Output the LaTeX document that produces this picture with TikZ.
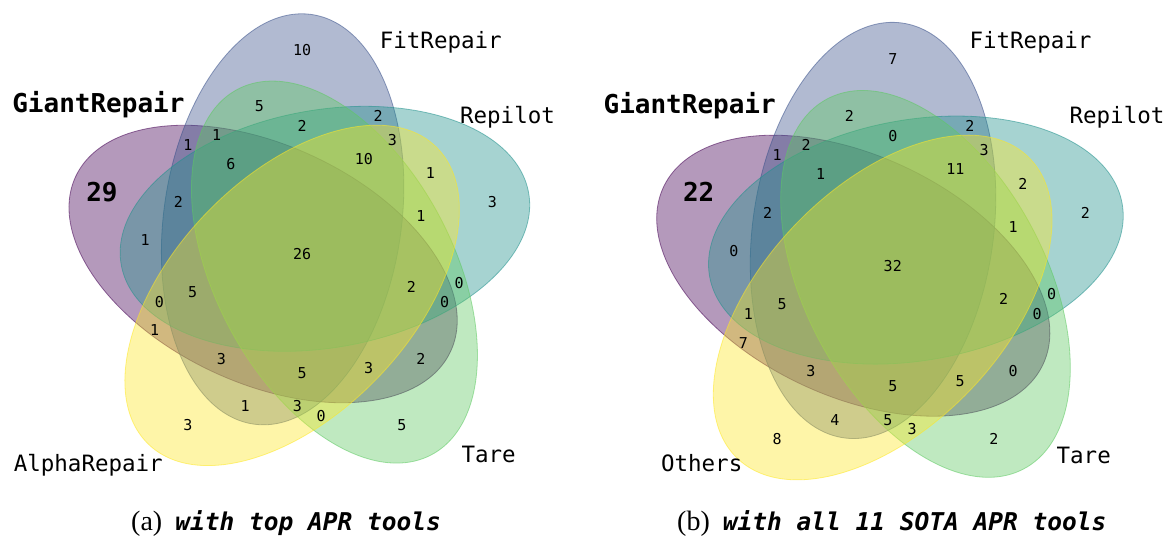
\documentclass[tikz,border=0pt]{standalone}
\usepackage{fontspec}
\newfontfamily\monofam{DejaVu Sans Mono}
\newfontfamily\capserif{Liberation Serif}
\definecolor{vpurple}{RGB}{68,1,84}
\definecolor{vblue}{RGB}{59,82,139}
\definecolor{vteal}{RGB}{33,145,140}
\definecolor{vgreen}{RGB}{94,201,98}
\definecolor{vyellow}{RGB}{253,231,37}
\begin{document}
\begin{tikzpicture}[x=1pt,y=1pt,
  setshape/.style={fill=#1, draw=#1, fill opacity=0.4, draw opacity=0.55, line width=0.8pt},
  setname/.style={font=\monofam\fontsize{22.5}{27}\selectfont, anchor=base, inner sep=0pt},
  bigname/.style={font=\monofam\bfseries\fontsize{26}{31}\selectfont, anchor=base, inner sep=0pt},
  cnt/.style={font=\monofam\fontsize{15}{18}\selectfont, inner sep=0pt},
  bigcnt/.style={font=\monofam\bfseries\fontsize{26}{31}\selectfont, inner sep=0pt},
  capt/.style={anchor=base west, inner sep=0pt, font=\capserif\fontsize{28}{32}\selectfont}]
\useasboundingbox (0,0) rectangle (1173,558);

% ---------------- left diagram ----------------
\begin{scope}[shift={(59.6,80.5)}, x=475.5pt, y=475.5pt]
  \foreach \cx/\cy/\ang/\col in {0.428/0.449/155/vpurple, 0.469/0.543/82/vblue, 0.558/0.523/10/vteal, 0.578/0.432/118/vgreen, 0.489/0.383/46/vyellow}
    \draw[setshape=\col, rotate around={\ang:(\cx,\cy)}] (\cx,\cy) ellipse [x radius=206.84pt, y radius=118.88pt];
  \foreach \k/\px/\py/\v in {00001/.27/.11/3, 00010/.72/.11/5, 00011/.55/.13/0, 00100/.91/.58/3,
      00101/.78/.64/1, 00110/.84/.41/0, 00111/.76/.55/1, 01000/.51/.90/10, 01001/.39/.15/1,
      01010/.42/.78/5, 01011/.50/.15/3, 01100/.67/.76/2, 01101/.70/.71/3, 01110/.51/.74/2,
      01111/.64/.67/10, 10001/.20/.31/1, 10010/.76/.25/2, 10011/.65/.23/3, 10100/.18/.50/1,
      10101/.21/.37/0, 10110/.81/.37/0, 10111/.74/.40/2, 11000/.27/.70/1, 11001/.34/.25/3,
      11010/.33/.72/1, 11011/.51/.22/5, 11100/.25/.58/2, 11101/.28/.39/5, 11110/.36/.66/6,
      11111/.51/.47/26}
    \node[cnt] (L\k) at (\px,\py) {\v};
\end{scope}
\node[bigcnt] (L10000) at (102,365.8) {29};
\node[bigname] (LGiant) at (98.4,445) {GiantRepair};
\node[setname] (LFit) at (440.8,509) {FitRepair};
\node[setname] (LRepilot) at (507.5,434.7) {Repilot};
\node[setname] (LTare) at (488.6,95.7) {Tare};
\node[setname] (LAlpha) at (88.3,86.3) {AlphaRepair};
\node[capt] (capA) at (131,27.3) {(a)\hspace{13pt}{\monofam\bfseries\itshape\fontsize{24.5}{29}\selectfont with top APR tools}};

% ---------------- right diagram ----------------
\begin{scope}[shift={(647.2,66.1)}, x=481.5pt, y=481.5pt]
  \foreach \cx/\cy/\ang/\col in {0.428/0.449/155/vpurple, 0.469/0.543/82/vblue, 0.558/0.523/10/vteal, 0.578/0.432/118/vgreen, 0.489/0.383/46/vyellow}
    \draw[setshape=\col, rotate around={\ang:(\cx,\cy)}] (\cx,\cy) ellipse [x radius=209.45pt, y radius=120.38pt];
  \foreach \k/\px/\py/\v in {00001/.27/.11/8, 00010/.72/.11/2, 00011/.55/.13/3, 00100/.91/.58/2,
      00101/.78/.64/2, 00110/.84/.41/0, 00111/.76/.55/1, 01000/.51/.90/7, 01001/.39/.15/4,
      01010/.42/.78/2, 01011/.50/.15/5, 01100/.67/.76/2, 01101/.70/.71/3, 01110/.51/.74/0,
      01111/.64/.67/11, 10001/.20/.31/7, 10010/.76/.25/0, 10011/.65/.23/5, 10100/.18/.50/0,
      10101/.21/.37/1, 10110/.81/.37/0, 10111/.74/.40/2, 11000/.27/.70/1, 11001/.34/.25/3,
      11010/.33/.72/2, 11011/.51/.22/5, 11100/.25/.58/2, 11101/.28/.39/5, 11110/.36/.66/1,
      11111/.51/.47/32}
    \node[cnt] (R\k) at (\px,\py) {\v};
\end{scope}
\node[bigcnt] (R10000) at (698.7,365.8) {22};
\node[bigname] (RGiant) at (689.7,444.7) {GiantRepair};
\node[setname] (RFit) at (1030.5,509) {FitRepair};
\node[setname] (RRepilot) at (1117,434) {Repilot};
\node[setname] (RTare) at (1083.7,94.7) {Tare};
\node[setname] (ROthers) at (701.7,86.3) {Others};
\node[capt] (capB) at (677,27.3) {(b)\hspace{13pt}{\monofam\bfseries\itshape\fontsize{24.5}{29}\selectfont with all 11 SOTA APR tools}};
\end{tikzpicture}
\end{document}
